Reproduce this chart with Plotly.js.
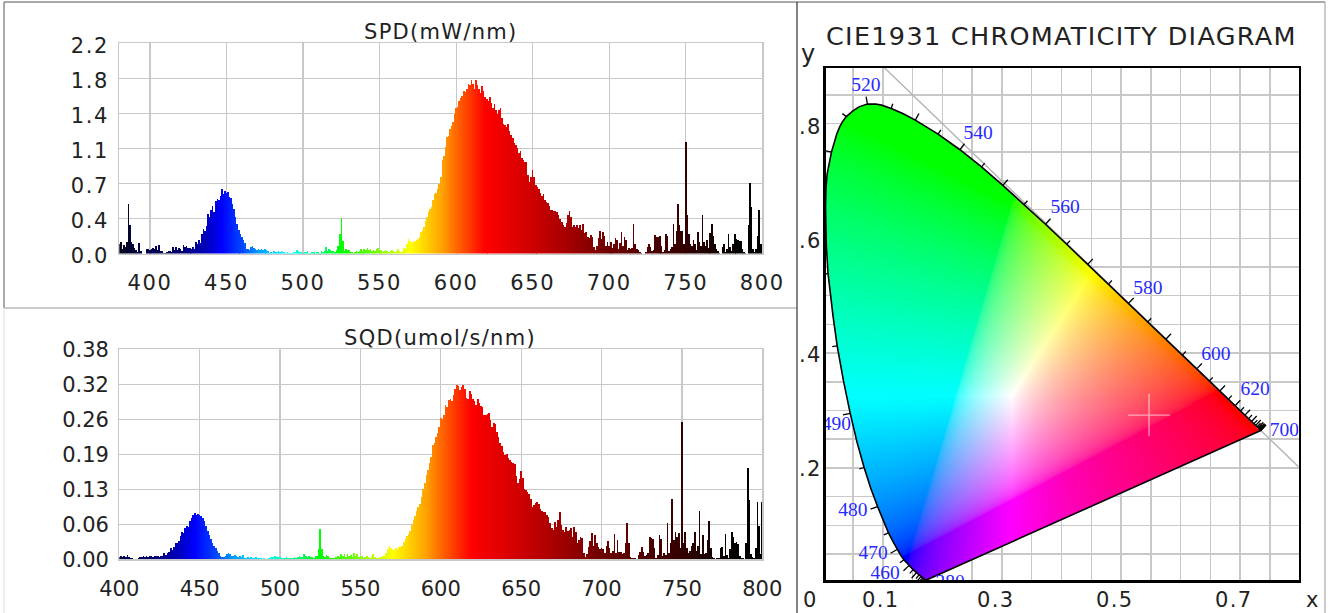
<!DOCTYPE html>
<html><head><meta charset="utf-8">
<script src="https://cdn.plot.ly/plotly-3.0.1.min.js"></script>
<style>html,body{margin:0;padding:0;background:#fff;overflow:hidden}
.xtick text,.ytick text{letter-spacing:1.6px}
.ytick{transform:translateY(2px)}
.annotation-text{letter-spacing:1.3px}
</style>
</head><body><div id="chart" style="width:1329px;height:613px"></div>
<script>
// ---- data ----
const spdStart = 380, sqdStart = 400;
const spd = [
.10,.12,.05,.09,.07,.12,.52,.30,.12,.10,
.06,.04,.02,.11,.03,.00,.00,.00,.05,.05,
.04,.05,.06,.05,.08,.04,.09,.03,.03,.01,
.01,.02,.03,.03,.02,.07,.04,.07,.04,.06,
.05,.03,.09,.07,.08,.06,.06,.05,.07,.05,
.12,.10,.14,.11,.20,.26,.24,.29,.41,.38,
.46,.50,.44,.55,.57,.56,.60,.68,.62,.66,
.63,.64,.59,.58,.52,.47,.38,.31,.25,.21,
.17,.14,.11,.05,.05,.04,.07,.08,.06,.05,
.04,.05,.04,.05,.04,.05,.04,.03,.01,.02,
.01,.03,.02,.02,.03,.02,.03,.02,.02,.01,
.02,.01,.01,.01,.02,.02,.04,.03,.02,.02,
.01,.02,.02,.03,.01,.01,.02,.02,.01,.02,
.02,.01,.03,.02,.03,.07,.03,.05,.04,.03,
.03,.02,.04,.08,.20,.37,.13,.03,.05,.04,
.04,.02,.02,.01,.02,.03,.02,.03,.05,.03,
.05,.04,.06,.04,.05,.03,.04,.03,.05,.06,
.03,.04,.02,.03,.04,.03,.02,.03,.04,.03,
.02,.03,.05,.03,.02,.03,.06,.05,.10,.15,
.13,.12,.12,.13,.14,.15,.17,.23,.25,.28,
.34,.38,.44,.47,.49,.56,.62,.63,.68,.73,
.80,.98,1.02,1.12,1.22,1.23,1.30,1.33,1.38,1.46,
1.52,1.53,1.60,1.63,1.65,1.70,1.69,1.72,1.77,1.76,
1.82,1.77,1.72,1.82,1.76,1.72,1.68,1.75,1.70,1.64,
1.62,1.60,1.64,1.58,1.52,1.56,1.50,1.46,1.50,1.52,
1.42,1.36,1.35,1.32,1.36,1.28,1.24,1.21,1.16,1.14,
1.10,1.05,1.07,1.00,.98,.96,.96,.82,.75,.80,
.87,.80,.72,.70,.68,.63,.60,.62,.56,.54,
.53,.50,.46,.46,.45,.45,.44,.40,.36,.33,
.30,.28,.32,.40,.45,.38,.28,.30,.28,.30,
.27,.30,.25,.31,.22,.23,.17,.16,.19,.17,
.07,.04,.08,.16,.24,.15,.23,.18,.08,.12,
.08,.12,.06,.10,.16,.14,.05,.11,.23,.08,
.17,.14,.04,.06,.05,.06,.31,.10,.05,.04,
.02,.01,.00,.00,.02,.07,.10,.07,.03,.04,
.19,.17,.17,.18,.08,.02,.04,.20,.18,.03,
.05,.07,.31,.10,.24,.52,.30,.24,.24,.10,
1.17,.40,.20,.10,.08,.14,.10,.04,.23,.12,
.08,.40,.12,.08,.14,.06,.22,.31,.18,.10,
.05,.03,.01,.00,.07,.10,.02,.05,.21,.07,
.03,.10,.21,.15,.14,.13,.13,.05,.02,.01,
.00,.30,.74,.49,.05,.02,.05,.18,.46,.10,
.45];
const sqd = [
.005,.006,.005,.007,.005,.008,.004,.002,.002,.001,
.001,.001,.003,.004,.004,.006,.005,.007,.004,.006,
.007,.005,.007,.006,.006,.005,.007,.006,.011,.008,
.012,.013,.021,.017,.023,.030,.029,.034,.042,.050,
.047,.056,.060,.058,.070,.074,.080,.084,.081,.083,
.080,.079,.075,.070,.060,.052,.044,.036,.030,.024,
.020,.016,.012,.006,.004,.005,.007,.009,.011,.009,
.006,.007,.008,.006,.005,.007,.005,.008,.002,.003,
.004,.002,.004,.002,.003,.004,.002,.002,.002,.001,
.002,.001,.001,.003,.005,.004,.005,.006,.004,.005,
.004,.002,.003,.002,.004,.003,.002,.002,.003,.004,
.002,.004,.007,.004,.005,.010,.006,.005,.006,.004,
.005,.003,.006,.006,.018,.055,.018,.006,.005,.008,
.006,.003,.003,.002,.003,.004,.007,.004,.009,.006,
.009,.005,.010,.006,.008,.004,.011,.006,.009,.005,
.005,.006,.003,.004,.006,.004,.003,.005,.009,.004,
.002,.003,.005,.004,.006,.006,.012,.018,.024,.020,
.019,.017,.020,.018,.022,.023,.024,.032,.037,.042,
.046,.052,.062,.072,.078,.088,.094,.100,.112,.128,
.139,.153,.162,.175,.185,.207,.210,.222,.228,.240,
.255,.254,.262,.279,.276,.288,.291,.286,.298,.308,
.315,.314,.306,.312,.316,.309,.292,.290,.304,.300,
.290,.287,.280,.290,.283,.278,.275,.262,.261,.263,
.264,.252,.240,.246,.245,.230,.222,.210,.205,.195,
.189,.190,.184,.180,.176,.174,.172,.150,.138,.146,
.159,.148,.128,.126,.122,.119,.110,.095,.098,.102,
.103,.100,.092,.088,.086,.085,.080,.077,.065,.056,
.053,.068,.058,.072,.086,.062,.053,.050,.059,.052,
.053,.056,.040,.059,.050,.029,.035,.040,.038,.012,
.005,.010,.022,.034,.047,.024,.044,.030,.023,.018,
.020,.018,.012,.024,.034,.020,.012,.016,.046,.012,
.035,.014,.014,.010,.012,.030,.065,.030,.004,.003,
.002,.003,.001,.008,.014,.022,.014,.006,.008,.012,
.041,.038,.036,.020,.003,.008,.044,.036,.006,.012,
.008,.065,.012,.030,.110,.035,.050,.040,.047,.020,
.249,.030,.050,.020,.012,.016,.025,.030,.050,.015,
.025,.087,.010,.044,.010,.012,.035,.069,.020,.004,
.002,.001,.003,.002,.020,.023,.006,.046,.008,.003,
.018,.049,.040,.030,.032,.028,.006,.003,.002,.001,
.030,.166,.107,.010,.004,.002,.020,.104,.060,.010,
.104];
const xTicks1 = [400,450,500,550,600,650,700,750,800];
const yTicksSpd = [0,0.3667,0.7333,1.1,1.4667,1.8333,2.2];
const yTextSpd = ["0.0","0.4","0.7","1.1","1.4","1.8","2.2"];
const yTicksSqd = [0,0.0633,0.1267,0.19,0.2533,0.3167,0.38];
const yTextSqd = ["0.00","0.06","0.13","0.19","0.26","0.32","0.38"];

// CIE 1931 spectral locus, 380-700 nm in 5 nm steps
const locusNm = [380,385,390,395,400,405,410,415,420,425,430,435,440,445,450,455,460,465,470,475,480,485,490,495,500,505,510,515,520,525,530,535,540,545,550,555,560,565,570,575,580,585,590,595,600,605,610,615,620,625,630,635,640,645,650,655,660,665,670,675,680,685,690,695,700];
const locusX = [.1741,.1740,.1738,.1736,.1733,.1730,.1726,.1721,.1714,.1703,.1689,.1669,.1644,.1611,.1566,.1510,.1440,.1355,.1241,.1096,.0913,.0687,.0454,.0235,.0082,.0039,.0139,.0389,.0743,.1142,.1547,.1929,.2296,.2658,.3016,.3373,.3731,.4087,.4441,.4788,.5125,.5448,.5752,.6029,.6270,.6482,.6658,.6801,.6915,.7006,.7079,.7140,.7190,.7230,.7260,.7283,.7300,.7311,.7320,.7327,.7334,.7340,.7344,.7346,.7347];
const locusY = [.0050,.0050,.0049,.0049,.0048,.0048,.0048,.0048,.0051,.0058,.0069,.0086,.0109,.0138,.0177,.0227,.0297,.0399,.0578,.0868,.1327,.2007,.2950,.4127,.5384,.6548,.7502,.8120,.8338,.8262,.8059,.7816,.7543,.7243,.6923,.6589,.6245,.5896,.5547,.5202,.4866,.4544,.4242,.3965,.3725,.3514,.3340,.3197,.3083,.2993,.2920,.2859,.2809,.2770,.2740,.2717,.2700,.2689,.2680,.2673,.2666,.2660,.2656,.2654,.2653];
// extra locus rows where the curve bends sharply, so the outline stays round
const bendNm = [467.5,472.5,477.5,482.5,487.5,492.5,497,498.5,502,503.5,506.5,508,511,512,513,514,516.5,518,521.5,523,527.5,532.5];
const bendX = [.1300,.1175,.1010,.0800,.0570,.0340,.0167,.0122,.0053,.0042,.0046,.0066,.0183,.0228,.0277,.0330,.0500,.0600,.0880,.0980,.1345,.1740];
const bendY = [.0480,.0710,.1075,.1640,.2440,.3520,.4630,.5010,.5870,.6250,.6850,.7120,.7669,.7816,.7941,.8040,.8220,.8290,.8340,.8320,.8170,.7940];
const nmLabels = ["520","540","560","580","600","620","700","490","480","470","460","380"];
const nmLabelX = [.0718,.26,.406,.545,.659,.725,.774,.022,.05,.084,.104,.213];
const nmLabelY = [.865,.782,.653,.512,.397,.336,.264,.275,.125,.05,.015,-.001];
const markerX = [.547], markerY = [.292];
const diagX = [.1,.7987], diagY = [.9,.2013];
const cieXLabels = ["0","0.1","0.3","0.5","0.7","x"];
const cieXLabelPx = [810,880,996,1114,1233,1313];
const cieYLabels = ["y",".8",".6",".4",".2"];
const cieYLabelPy = [54,127,241,355,469];

// ---- styling helpers ----
const W = 1329, H = 613;
const px = v => v / W, py = v => 1 - v / H;
const stopNm  = [380,395,420,437,447,460,470,490,510,525,550,570,590,600,619,650,670,700,750,785];
const stopRgb = [[5,5,30],[0,0,70],[0,0,110],[0,0,190],[0,0,255],[0,70,255],[0,150,255],[0,255,255],[0,255,130],[0,255,0],[130,255,0],[255,255,0],[255,165,0],[255,105,0],[255,0,0],[205,0,0],[170,0,0],[110,0,0],[50,0,0],[0,0,0]];
function waveColor(n){
  if(n<=stopNm[0]) return 'rgb('+stopRgb[0]+')';
  for(let i=1;i<stopNm.length;i++){
    if(n<=stopNm[i]){
      const t=(n-stopNm[i-1])/(stopNm[i]-stopNm[i-1]);
      return 'rgb('+stopRgb[i].map((c,k)=>Math.round(stopRgb[i-1][k]+(c-stopRgb[i-1][k])*t))+')';
    }
  }
  return 'rgb(0,0,0)';
}
const nmOf = (arr,start)=>arr.map((_,i)=>start+i);
const GRID = '#c8c8c8';
const TF = {family:'"DejaVu Sans", sans-serif',size:21,color:'#222'};
function spectrumAxes(domX,domY,range,tv,tt,top){
  return {
    x:{domain:[px(domX[0]),px(domX[1])],range:range,tickvals:xTicks1,ticktext:xTicks1.map(String),gridcolor:GRID,gridwidth:1.2,showline:true,linecolor:GRID,linewidth:1.2,mirror:true,ticks:'',zeroline:false,ticklabelstandoff:10,tickfont:TF,fixedrange:true},
    y:{domain:[py(domY[1]),py(domY[0])],range:[0,top],tickvals:tv,ticktext:tt,gridcolor:GRID,gridwidth:1.2,showline:true,linecolor:GRID,linewidth:1.2,mirror:true,ticks:'',zeroline:false,ticklabelstandoff:5,tickfont:TF,fixedrange:true}
  };
}
const a1 = spectrumAxes([119.3,762.3],[43.3,253.6],[380,800],yTicksSpd,yTextSpd,2.2);
const a2 = spectrumAxes([119.3,762.3],[349.3,559.4],[400,800],yTicksSqd,yTextSqd,0.38);

function barTrace(vals,start,xa,ya){
  const n = nmOf(vals,start);
  return {type:'bar',x:n,y:vals,width:1.02,xaxis:xa,yaxis:ya,hoverinfo:'skip',
    marker:{color:n.map(waveColor),line:{width:0}}};
}

// outline: table rows and bend rows in wavelength order
const edgeOrder = locusNm.map((n,i)=>[n,locusX[i],locusY[i]]).concat(bendNm.map((n,i)=>[n,bendX[i],bendY[i]])).sort((a,b)=>a[0]-b[0]);
const edgeX = edgeOrder.map(r=>r[1]), edgeY = edgeOrder.map(r=>r[2]);

// ---- chromaticity fill ----
const primX=[.655,.317,.145], primY=[.33,.66,.05], whiteXY=[.317,.325];
const greenEdgeSlope=-.5;
function inv3(m){
  const [a,b,c]=m[0],[d,e,f]=m[1],[g,h,i]=m[2];
  const A=e*i-f*h,B=f*g-d*i,C=d*h-e*g,det=a*A+b*B+c*C;
  return [[A/det,(c*h-b*i)/det,(b*f-c*e)/det],[B/det,(a*i-c*g)/det,(c*d-a*f)/det],[C/det,(b*g-a*h)/det,(a*e-b*d)/det]];
}
const base=[[primX[0],primX[1],primX[2]],[primY[0],primY[1],primY[2]],primX.map((x,i)=>1-x-primY[i])];
const baseI=inv3(base);
const w3=[whiteXY[0],whiteXY[1],1-whiteXY[0]-whiteXY[1]];
const S=baseI.map(r=>r[0]*w3[0]+r[1]*w3[1]+r[2]*w3[2]);
const M=base.map(r=>r.map((v,i)=>v*S[i]));
const MI=inv3(M);
function inside(x,y){
  let c=false;const n=edgeX.length;
  for(let i=0,j=n-1;i<n;j=i++){
    if((edgeY[i]>y)!==(edgeY[j]>y) && x<(edgeX[j]-edgeX[i])*(y-edgeY[i])/(edgeY[j]-edgeY[i])+edgeX[i]) c=!c;
  }
  return c;
}
const GAMMA=1/2.2;
function gamutRows(x0,dx,nx,y0,dy,ny){
  const z=[];
  for(let r=0;r<ny;r++){
    const row=new Array(nx),y=y0+r*dy;
    for(let c=0;c<nx;c++){
      const x=x0+c*dx;
      if(!inside(x,y)){row[c]=[255,255,255,0];continue;}
      const v=[x,y,1-x-y];
      let rgb=MI.map(m=>Math.max(0,m[0]*v[0]+m[1]*v[1]+m[2]*v[2]));
      const mx=Math.max(rgb[0],rgb[1],rgb[2])||1;
      rgb=rgb.map(u=>Math.round(255*Math.pow(u/mx,GAMMA)));
      // the green wedge of the reference: pure green above a shallow line, easing to cyan
      if(rgb[0]===0 && y>whiteXY[1]){
        const top=primY[1]+greenEdgeSlope*(x-primX[1]);
        const t=Math.min(1,Math.max(0,(top-y)/(top-whiteXY[1])));
        rgb[1]=255; rgb[2]=Math.round(255*Math.pow(t,.85));
      }
      row[c]=[rgb[0],rgb[1],rgb[2],1];
    }
    z.push(row);
  }
  return z;
}
const xR=[.0039,.7979], yR=[.0047,.8967];
const imgDx=.00168, imgDy=.00175;
const imgTrace={type:'image',colormodel:'rgba',x0:xR[0],dx:imgDx,y0:yR[0],dy:imgDy,
  z:gamutRows(xR[0],imgDx,Math.round((xR[1]-xR[0])/imgDx),yR[0],imgDy,Math.round((yR[1]-yR[0])/imgDy)),
  xaxis:'x3',yaxis:'y3',hoverinfo:'skip'};

// wavelength tick marks along the locus
const tx=[],ty=[];
locusNm.forEach((nm,i)=>{
  const a=Math.max(i-1,0),b=Math.min(i+1,locusNm.length-1);
  let dx=(locusX[b]-locusX[a])*596,dy=(locusY[b]-locusY[a])*574;
  const l=Math.hypot(dx,dy)||1;dx/=l;dy/=l;
  const len=(nm%10===0?7.5:5);
  tx.push(locusX[i],locusX[i]-dy*len/596,null);
  ty.push(locusY[i],locusY[i]+dx*len/574,null);
});
const cieAnn=[];
cieXLabels.forEach((t,i)=>cieAnn.push({text:t,xref:'paper',yref:'paper',x:px(cieXLabelPx[i]),y:py(600),xanchor:'center',yanchor:'middle',showarrow:false,font:{family:TF.family,size:21,color:'#222'}}));
cieYLabels.forEach((t,i)=>cieAnn.push({text:t,xref:'paper',yref:'paper',x:px(i?824:819),y:py(cieYLabelPy[i]),xanchor:'right',yanchor:'middle',showarrow:false,font:{family:TF.family,size:i?21:24,color:'#222'}}));

const traces=[
  barTrace(spd,spdStart,'x','y'),
  barTrace(sqd,sqdStart,'x2','y2'),
  {type:'scatter',mode:'lines',x:diagX,y:diagY,xaxis:'x3',yaxis:'y3',line:{color:'#b4b4b4',width:1.4},hoverinfo:'skip'},
  imgTrace,
  {type:'scatter',mode:'lines',x:edgeX.concat([edgeX[0]]),y:edgeY.concat([edgeY[0]]),xaxis:'x3',yaxis:'y3',line:{color:'#000',width:1.6},hoverinfo:'skip'},
  {type:'scatter',mode:'lines',x:tx,y:ty,xaxis:'x3',yaxis:'y3',line:{color:'#000',width:1.3},hoverinfo:'skip'},
  {type:'scatter',mode:'markers',x:markerX,y:markerY,xaxis:'x3',yaxis:'y3',marker:{symbol:'cross-thin',size:30,color:'rgba(0,0,0,0)',line:{color:'rgba(255,255,255,.55)',width:1.4}},hoverinfo:'skip'},
  {type:'scatter',mode:'text',x:nmLabelX,y:nmLabelY,text:nmLabels,xaxis:'x3',yaxis:'y3',cliponaxis:true,textposition:'middle center',textfont:{family:'"Liberation Serif", serif',size:19.5,color:'#2828ff'},hoverinfo:'skip'}
];

const title=(t,x,y,size)=>({text:t,xref:'paper',yref:'paper',x:px(x),y:py(y),xanchor:'center',yanchor:'middle',showarrow:false,font:{family:TF.family,size:size,color:'#222'}});
const EDGE='#555';
const layout={
  width:W,height:H,autosize:false,showlegend:false,bargap:0,
  margin:{l:0,r:0,t:0,b:0,pad:0},paper_bgcolor:'#fff',plot_bgcolor:'#fff',
  xaxis:a1.x,yaxis:Object.assign(a1.y,{anchor:'x'}),
  xaxis2:Object.assign(a2.x,{anchor:'y2'}),yaxis2:Object.assign(a2.y,{anchor:'x2'}),
  xaxis3:{domain:[px(825.5),px(1298.5)],range:xR,anchor:'y3',dtick:.05,tick0:0,showticklabels:false,ticks:'',gridcolor:GRID,gridwidth:1.5,zeroline:false,showline:true,linecolor:'#000',linewidth:2.5,mirror:true,fixedrange:true},
  yaxis3:{domain:[py(580),py(68)],range:yR,anchor:'x3',scaleanchor:false,dtick:.05,tick0:0,showticklabels:false,ticks:'',gridcolor:GRID,gridwidth:1.5,zeroline:false,showline:true,linecolor:'#000',linewidth:2.5,mirror:true,fixedrange:true},
  annotations:[
    title('SPD(mW/nm)',441,32,21),
    title('SQD(umol/s/nm)',440,338,21),
    title('CIE1931 CHROMATICITY DIAGRAM',1061,36,25.5)
  ].concat(cieAnn),
  shapes:[
    {type:'line',xref:'paper',yref:'paper',x0:px(4),x1:px(4),y0:py(2),y1:py(308),line:{color:EDGE,width:1}},
    {type:'line',xref:'paper',yref:'paper',x0:px(4),x1:px(4),y0:py(308),y1:py(613),line:{color:'#ddd',width:1}},
    {type:'line',xref:'paper',yref:'paper',x0:px(4),x1:px(1325),y0:py(2),y1:py(2),line:{color:EDGE,width:1.2}},
    {type:'line',xref:'paper',yref:'paper',x0:px(4),x1:px(797),y0:py(308),y1:py(308),line:{color:'#bbb',width:1.5}},
    {type:'line',xref:'paper',yref:'paper',x0:px(797),x1:px(797),y0:py(2),y1:py(613),line:{color:'#333',width:1.2}},
    {type:'line',xref:'paper',yref:'paper',x0:px(1325),x1:px(1325),y0:py(2),y1:py(613),line:{color:'#999',width:1}}
  ]
};
Plotly.newPlot('chart',traces,layout,{staticPlot:true,displayModeBar:false});
</script></body></html>
